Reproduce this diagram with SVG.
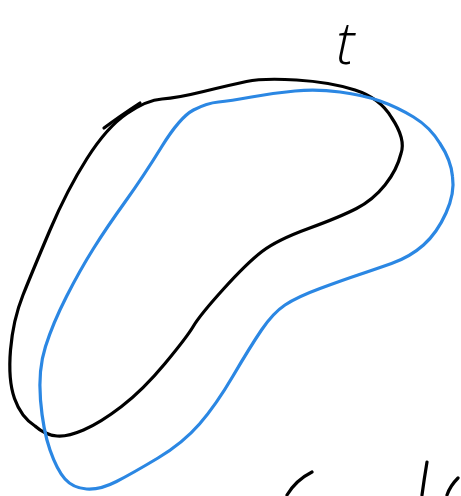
<svg xmlns="http://www.w3.org/2000/svg" width="461" height="496" viewBox="0 0 461 496">
<style>
.ink{fill:none;stroke-linecap:round;stroke-linejoin:round;stroke-width:3.2}
.black{stroke:#000}
.blue{stroke:#2b87e3}
.lbl{font-family:"Open Sans","DejaVu Sans",sans-serif;font-weight:300;font-style:italic;font-size:58px;fill:#000}
</style>
<rect width="461" height="496" fill="#fff"/>
<g id="black-region">
<path class="ink black" d="M127,113.5 Q147,100 162,99 Q177,98 203.5,91.5 Q230,85 246.5,81.5 Q263,78 296.5,80 Q330,82 355,90 Q380,98 391.5,117.5 Q406,139 401,153.5 Q397,170 385,185 Q373,200 356.5,208.5 Q340,217 308.5,228.5 Q277,240 262,251.5 Q247,263 223.5,289 Q200,315 193.5,326 Q187,337 165,363.5 Q143,390 121.5,406.5 Q100,423 83.5,430 Q67,437 57,436 Q45,435 35,426 Q21,417 14.5,398.5 Q8,380 10.5,350 Q13,320 23,295 Q33,270 50,230 Q67,190 87,158.5 Q107,127 127,113.5 Z"/>
<path class="ink black" d="M104,128 Q120,116 140,103" stroke-width="2"/>
</g>
<g id="blue-region">
<path class="ink blue" d="M193.5,110 Q207,103 218.5,102 Q230,101 251.5,97 Q273,93 295,91 Q317,89 340,92 Q363,95 380,101 Q397,107 413.5,117 Q430,127 440,143.5 Q451,160 452.5,176.5 Q455,193 446,213 Q437,233 423.5,245 Q410,257 391.5,263.5 Q373,270 358,275 Q343,280 320,288.5 Q297,297 285,305 Q273,313 261.5,330 Q250,347 233,376 Q216,405 199.5,424 Q183,443 158,458 Q133,473 116.5,481.5 Q100,490 86.5,489 Q73,488 65,479 Q57,470 50,450 Q43,430 40.5,400 Q38,370 45.5,346.5 Q53,323 66.5,296.5 Q80,270 93.5,248.5 Q107,227 125,202 Q143,177 161.5,147 Q180,117 193.5,110 Z"/>
</g>
<g id="label-t">
<text class="lbl" x="336" y="64">t</text>
</g>
<g id="bottom-strokes">
<path class="ink black" d="M312,472 Q296,480 287,495"/>
<path class="ink black" d="M427,462 Q424,480 422,495"/>
<path class="ink black" d="M458,478 Q450,486 447,495"/>
</g>
</svg>
